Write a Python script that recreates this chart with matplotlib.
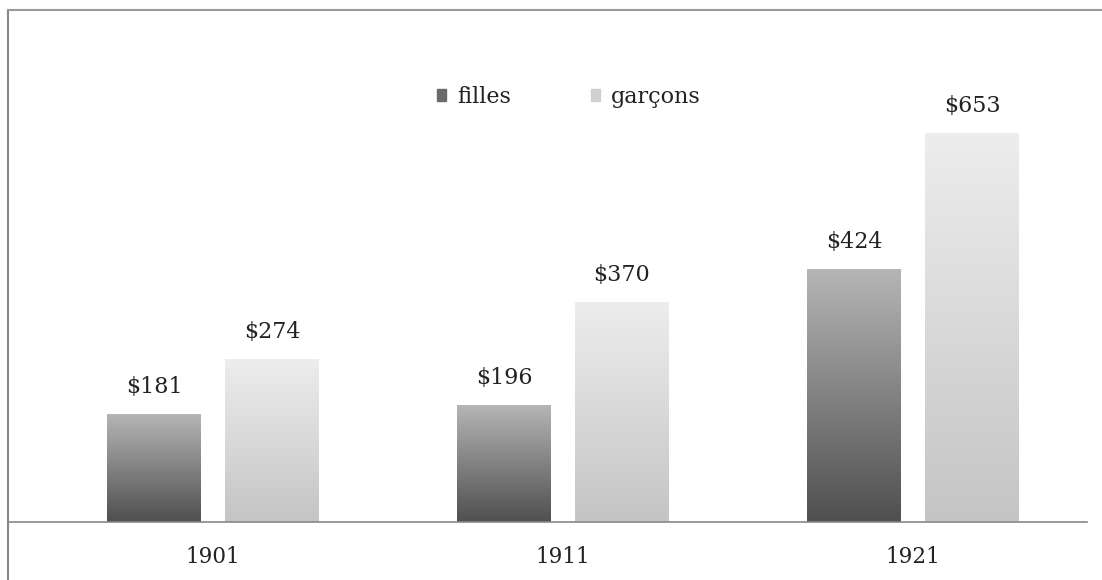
import numpy as np
import matplotlib.pyplot as plt
from matplotlib.patches import Rectangle
from matplotlib.lines import Line2D

years = ["1901", "1911", "1921"]
filles = [181, 196, 424]
garcons = [274, 370, 653]
series_names = ["filles", "garçons"]

plt.rcParams['font.family'] = ['DejaVu Serif']

W, H = 1102, 580
fig = plt.figure(figsize=(W / 100, H / 100), dpi=100)

# axes placed in pixel terms: baseline at y=522, spans x 8..1087
ax = fig.add_axes([8 / W, (H - 522) / H, (1087 - 8) / W, (522 - 40) / H])
px_per_cat = 350.0
x0 = (8 - 213) / px_per_cat
x1 = (1087 - 213) / px_per_cat
ymax = 653 * (522 - 40) / (522 - 133)

x = np.arange(len(years))
off = 59 / px_per_cat
width = 94 / px_per_cat


def gradient_bars(xs, vals, bottom_col, top_col):
    bars = ax.bar(xs, vals, width, color='none', edgecolor='none', zorder=2)
    grad = np.linspace(0, 1, 256).reshape(-1, 1)
    b = np.array(bottom_col)
    t = np.array(top_col)
    img = (b + (t - b) * grad)[:, None, :]
    for bar in bars:
        bx, by = bar.get_x(), bar.get_y()
        bw, bh = bar.get_width(), bar.get_height()
        im = ax.imshow(img, extent=[bx, bx + bw, by, by + bh], origin='lower',
                       aspect='auto', zorder=2)
        im.set_clip_path(bar)
    return bars


gradient_bars(x - off, filles, (0.31, 0.31, 0.31), (0.71, 0.71, 0.71))
gradient_bars(x + off, garcons, (0.77, 0.77, 0.77), (0.93, 0.93, 0.93))
ax.set_xlim(x0, x1)
ax.set_ylim(0, ymax)

for xs, vals in ((x - off, filles), (x + off, garcons)):
    for xi, v in zip(xs, vals):
        ax.text(xi, v + 27, f"${v}", ha='center', va='bottom', fontsize=16,
                color='#222222')

for s in ['top', 'right', 'left']:
    ax.spines[s].set_visible(False)
ax.spines['bottom'].set_color('#888888')
ax.spines['bottom'].set_linewidth(1.2)
ax.set_yticks([])
ax.set_xticks(x)
ax.set_xticklabels(years, fontsize=15.5, color='#222222')
ax.tick_params(axis='x', length=0, pad=17)

handles = [Rectangle((0, 0), 1, 1, color='#6a6a6a'),
           Rectangle((0, 0), 1, 1, color='#d0d0d0')]
leg = fig.legend(handles, series_names, loc='center', bbox_to_anchor=(569 / W, 1 - 97 / H),
                 ncol=2, frameon=False, fontsize=16, handlelength=0.4, handleheight=0.4,
                 handletextpad=0.5, columnspacing=3.6)
for t in leg.get_texts():
    t.set_color('#222222')

# frame lines around the chart
fig.add_artist(Line2D([8 / W, 8 / W], [0, 1 - 10 / H], color='#888888', lw=1.5,
                      transform=fig.transFigure))
fig.add_artist(Line2D([8 / W, 1], [1 - 10 / H, 1 - 10 / H], color='#999999', lw=1.5,
                      transform=fig.transFigure))

fig.savefig("out.png", dpi=100)
